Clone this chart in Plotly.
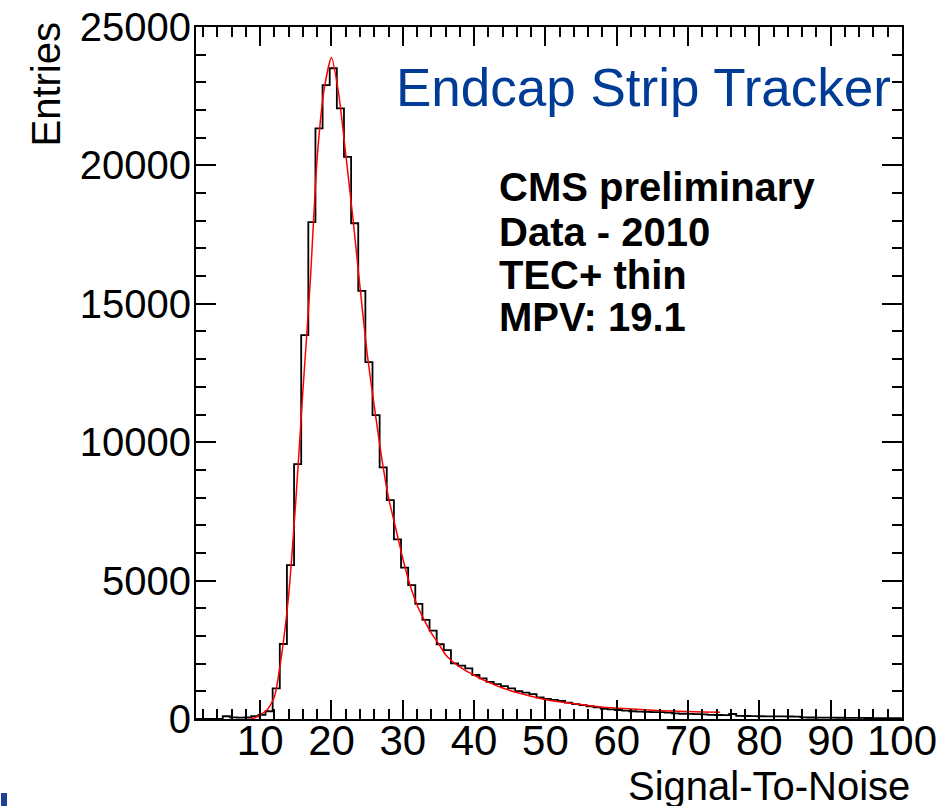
import plotly.graph_objects as go

# Signal-to-noise histogram: 1-unit bins, first bin's lower edge
bin_start = 0.75
bin_width = 1.0
counts = [
    0, 0, 0, 0, 100, 60, 50, 55, 100, 150,
    280, 1110, 2710, 5560, 9210, 13870, 17950, 21340, 22900, 23510,
    22060, 20310, 17910, 15470, 12890, 10980, 9090, 7910, 6490, 5470,
    4840, 4160, 3580, 3190, 2700, 2490, 2010, 1930, 1830, 1590,
    1470, 1340, 1260, 1190, 1110, 1010, 950, 900, 780, 730,
    690, 650, 590, 540, 500, 460, 420, 370, 350, 325,
    300, 280, 265, 255, 250, 245, 230, 200, 190, 182,
    175, 168, 150, 145, 138, 180, 110, 108, 105, 100,
    98, 95, 92, 90, 88, 60, 55, 52, 50, 48,
    45, 42, 40, 38, 36, 34, 32, 30, 28, 26,
]

# Landau (x) Gauss fit curve, sampled points
fit_x = [8.6, 9.0, 10, 11, 12, 13, 14, 15, 16, 17, 18, 19, 20, 21, 22, 23, 24, 25,
         26, 27, 28, 29, 30, 31, 32, 33, 34, 35, 36, 37, 38, 39, 40, 41.8, 44.1,
         46.4, 48.8, 51.1, 53.5, 55.8, 58.1, 60.5, 62.8, 65.1, 67.5, 69.8, 72.1, 74.5]
fit_y = [0, 20, 150, 330, 800, 2300, 4500, 7900, 11900, 15700, 20300, 22800, 23900,
         22600, 20400, 18100, 15600, 13200, 11300, 9500, 8000, 6900, 5800, 4850, 4120,
         3580, 3100, 2730, 2320, 2070, 1880, 1720, 1580, 1350, 1110, 927, 771, 650,
         566, 494, 425, 385, 349, 315, 289, 268, 253, 241]

x_ticks = [10, 20, 30, 40, 50, 60, 70, 80, 90, 100]
y_ticks = [0, 5000, 10000, 15000, 20000, 25000]

info_lines = ["CMS preliminary", "Data - 2010", "TEC+ thin", "MPV: 19.1"]

FONT = "Liberation Sans, Arial, Helvetica, sans-serif"
W, H = 941, 806
L, R, T, B = 196, 39, 27, 87
PW, PH = W - L - R, H - T - B


def px_x(px):
    return (px - L) / PW


def px_y(py):
    return (H - B - py) / PH


edges = [bin_start + i * bin_width for i in range(len(counts) + 1)]
steps = counts + [counts[-1]]

fig = go.Figure()
fig.add_trace(go.Scatter(
    x=edges, y=steps, mode="lines", line=dict(shape="hv", color="black", width=1.8),
    showlegend=False, hoverinfo="skip"))
fig.add_trace(go.Scatter(
    x=fit_x, y=fit_y, mode="lines",
    line=dict(shape="spline", smoothing=0.6, color="#ff0000", width=1.5),
    showlegend=False, hoverinfo="skip"))

axis_common = dict(
    ticks="inside", tickcolor="black", tickwidth=1.5,
    showline=True, linewidth=2, linecolor="black", mirror="ticks",
    showgrid=False, zeroline=False, automargin=False,
)

fig.update_xaxes(
    range=[1, 100], tickvals=x_ticks, ticktext=[str(v) for v in x_ticks],
    ticklen=19, tickfont=dict(family=FONT, size=42, color="black"),
    ticklabelstandoff=-16,
    minor=dict(dtick=2, tick0=0, ticks="inside", ticklen=10, tickcolor="black",
               tickwidth=1.5, showgrid=False),
    **axis_common)
fig.update_yaxes(
    range=[0, 25000], tickvals=y_ticks, ticktext=[str(v) for v in y_ticks],
    ticklen=20, tickfont=dict(family=FONT, size=40, color="black"),
    ticklabelstandoff=-5,
    minor=dict(dtick=1000, tick0=0, ticks="inside", ticklen=10, tickcolor="black",
               tickwidth=1.5, showgrid=False),
    **axis_common)

annotations = [
    dict(text="Endcap Strip Tracker", x=px_x(893), y=px_y(88), xanchor="right",
         yanchor="middle", font=dict(family=FONT, size=53, color="#003c96")),
    dict(text="Entries", x=px_x(45), y=px_y(20), xanchor="center", yanchor="top",
         textangle=-90, font=dict(family=FONT, size=40, color="black")),
    dict(text="Signal-To-Noise", x=px_x(912), y=px_y(786), xanchor="right",
         yanchor="middle", font=dict(family=FONT, size=40, color="black")),
]
for line, cy in zip(info_lines, [186.5, 231.5, 275, 317]):
    annotations.append(dict(
        text=f"<b>{line}</b>", x=px_x(497), y=px_y(cy), xanchor="left",
        yanchor="middle", font=dict(family=FONT, size=40, color="black")))
for a in annotations:
    a.update(xref="paper", yref="paper", showarrow=False)

# small blue slide-edge marker in the lower-left corner
shapes = [dict(type="rect", xref="paper", yref="paper",
               x0=px_x(1), x1=px_x(7), y0=px_y(806), y1=px_y(793),
               fillcolor="#1f3f9a", line=dict(width=0), layer="above")]

fig.update_layout(
    width=W, height=H, margin=dict(l=L, r=R, t=T, b=B, pad=0, autoexpand=False),
    paper_bgcolor="white", plot_bgcolor="white",
    annotations=annotations, shapes=shapes,
)

fig.write_html("out.html")
